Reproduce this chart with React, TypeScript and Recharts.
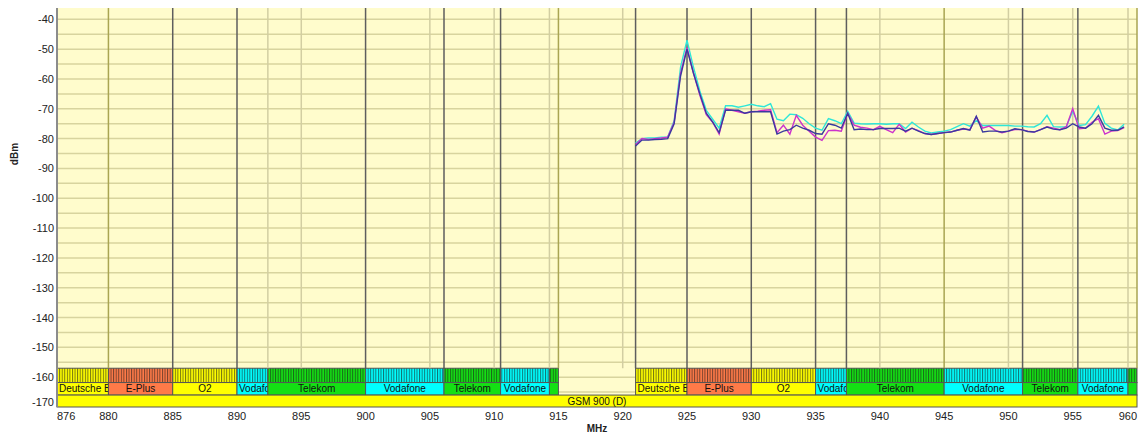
import React from 'react';
import {
  ComposedChart,
  CartesianGrid,
  Line,
  XAxis,
  YAxis,
  ReferenceArea,
  ReferenceLine,
  Customized,
} from 'recharts';

// measured sweep, 921..959 MHz
const freqs = [
  921, 921.5, 922, 922.5, 923, 923.5, 924, 924.5, 925, 925.5, 926, 926.5, 927, 927.5, 928, 928.5,
  929, 929.5, 930, 930.5, 931, 931.5, 932, 932.5, 933, 933.5, 934, 934.5, 935, 935.5, 936, 936.5,
  937, 937.5, 938, 938.5, 939, 939.5, 940, 940.5, 941, 941.5, 942, 942.5, 943, 943.5, 944, 944.5,
  945, 945.5, 946, 946.5, 947, 947.5, 948, 948.5, 949, 949.5, 950, 950.5, 951, 951.5, 952, 952.5,
  953, 953.5, 954, 954.5, 955, 955.5, 956, 956.5, 957, 957.5, 958, 958.5, 959,
];

const levelNavy = [
  -82.5, -80.5, -80.5, -80.3, -80.2, -80, -75, -59, -50, -58, -65, -71.5, -74.5, -78, -70.5, -70.5,
  -70.5, -71.5, -71, -71, -71, -71, -78.5, -77.5, -77, -75.5, -76.5, -77.2, -78.3, -78.5, -75, -75.5,
  -76.5, -71.5, -77, -76.8, -77, -77, -76.6, -76.6, -76.6, -76.5, -77.5, -76.5, -77.5, -78.3, -78.6, -78.3,
  -78, -77.8, -77.2, -76.6, -77.2, -72.5, -77.8, -77.5, -77.5, -77.8, -77.5, -76.7, -77, -77.6, -77.8, -77,
  -76.1, -76.8, -77, -76.5, -75, -76.1, -76.5, -75, -72.2, -76.5, -77.2, -77.2, -76.1,
];

const levelMagenta = [
  -82, -80, -80.3, -80, -79.8, -79.5, -74.5, -58, -49.5, -58, -65.5, -72, -74.5, -78.5, -70, -70.5,
  -71, -71.5, -71, -70.8, -70.5, -70.3, -78, -75.5, -78.5, -72.2, -75.5, -77.5, -79.5, -80.6, -77.3, -77.2,
  -77.5, -71.5, -75.5, -76.2, -76.5, -77, -75.9, -77, -78, -75.2, -77.8, -76.5, -77.3, -78.3, -78.6, -78.3,
  -78, -77.8, -77.2, -76.8, -77, -72.7, -76.5, -75.8, -77.3, -78, -77.5, -77, -77, -77.5, -77.8, -77,
  -76, -76.5, -77, -76, -70, -76.7, -76.5, -74.5, -73.3, -78.5, -77.5, -77.3, -76.3,
];

const levelCyan = [
  -81.5, -80, -79.8, -79.8, -79.5, -79.5, -74, -56, -47, -56, -64, -70.5, -73.5, -76.5, -69, -69,
  -69.5, -69, -68.5, -69, -69.3, -68.3, -73.5, -74, -71.8, -72, -73.2, -75, -76.5, -77.2, -73.3, -74,
  -75, -70.8, -74.8, -75, -75.1, -75, -75, -75.2, -75, -75, -76.6, -74.5, -76.1, -77.5, -78.1, -77.8,
  -77.5, -77, -76, -75, -75.8, -74, -75.6, -75.6, -75.6, -75.6, -75.6, -75.8, -75.8, -76, -76.1, -75,
  -72.2, -76, -76.1, -76, -70.8, -75.6, -75.3, -72.5, -69.1, -74.9, -76.5, -77.1, -75.2,
];

// operator allocations (uplink / downlink)
const bandNames = ['Deutsche Bahn', 'E-Plus', 'O2', 'Vodafone', 'Telekom', 'Vodafone', 'Telekom', 'Vodafone', 'Telekom'];
const uplinkEdges = [876, 880, 885, 890, 892.4, 900, 906.1, 910.5, 914.3, 915];
const downlinkEdges = [921, 925, 930, 935, 937.4, 945, 951.1, 955.4, 959.3, 960];
const bandColors: Record<string, string> = {
  'Deutsche Bahn': '#ffff00',
  'E-Plus': '#ff7a48',
  O2: '#ffff00',
  Vodafone: '#00ffff',
  Telekom: '#14e014',
};

const xTicks = [876, 880, 885, 890, 895, 900, 905, 910, 915, 920, 925, 930, 935, 940, 945, 950, 955, 960];
const yTicks = [-40, -50, -60, -70, -80, -90, -100, -110, -120, -130, -140, -150, -160, -170];
const gridDbm = [
  -40, -45, -50, -55, -60, -65, -70, -75, -80, -85, -90, -95, -100, -105, -110, -115, -120, -125,
  -130, -135, -140, -145, -150, -155, -160, -165,
];
const darkLines = [885, 890, 900, 906.1, 910.5, 921, 925, 930, 935, 937.4, 951.1, 955.4];
const oliveLines = [880, 915, 945, 960];
const lightLines = [892.4, 895, 905, 910, 914.3, 920, 940, 950, 955, 959.3];

const Y_TOP = -36.2;
const CHANNEL_TOP = -157;
const CHANNEL_BOTTOM = -161.8;
const LABEL_BOTTOM = -166;
const FONT = '"Liberation Sans", Arial, sans-serif';

const data = freqs.map((f, i) => ({
  f,
  navy: levelNavy[i],
  magenta: levelMagenta[i],
  cyan: levelCyan[i],
}));

const bands: { name: string; x1: number; x2: number }[] = [];
[uplinkEdges, downlinkEdges].forEach((edges) => {
  bandNames.forEach((name, i) => bands.push({ name, x1: edges[i], x2: edges[i + 1] }));
});

function bandShape(color: string, text: string | null, striped: boolean) {
  return (p: any) => {
    const { x, y, width, height } = p;
    let label = null;
    if (text && width > 16) {
      const fits = text.length * 5.6 + 4 < width;
      label = (
        <svg x={x} y={y} width={width} height={height} overflow="hidden">
          <text
            x={fits ? width / 2 : 2}
            y={height / 2 + 3.6}
            textAnchor={fits ? 'middle' : 'start'}
            fontSize={10}
            fontFamily={FONT}
            fill="#111"
          >
            {text}
          </text>
        </svg>
      );
    }
    return (
      <g>
        <rect x={x} y={y} width={width} height={height} fill={color} />
        {striped && <rect x={x} y={y} width={width} height={height} fill="url(#chan)" />}
        <rect x={x} y={y} width={width} height={height} fill="none" stroke="#555" strokeWidth={1} />
        {label}
      </g>
    );
  };
}

const XTick = (props: any) => {
  const { x, y, payload } = props;
  const v = payload.value;
  const anchor = v === xTicks[0] ? 'start' : v === xTicks[xTicks.length - 1] ? 'end' : 'middle';
  return (
    <text x={x} y={y + 13} textAnchor={anchor} fontSize={11} fontFamily={FONT} fill="#222">
      {v}
    </text>
  );
};

const YTick = (props: any) => {
  const { x, y, payload } = props;
  const shift = payload.value === -170 ? -5 : 0;
  return (
    <text x={x} y={y + 4 + shift} textAnchor="end" fontSize={11} fontFamily={FONT} fill="#222">
      {payload.value}
    </text>
  );
};

const DbmLabel = () => (
  <text
    x={18}
    y={154}
    transform="rotate(-90 18 154)"
    textAnchor="middle"
    fontSize={10}
    fontWeight="bold"
    fontFamily={FONT}
    fill="#222"
  >
    dBm
  </text>
);

export default function App() {
  return (
    <div style={{ position: 'absolute', left: 0, top: 0, background: '#fff' }}>
      <ComposedChart width={1141} height={434} data={data} margin={{ top: 8, right: 4, bottom: 0, left: 0 }}>
        <defs>
          <pattern id="chan" patternUnits="userSpaceOnUse" width={2.571} height={10}>
            <rect x={0} y={0} width={1} height={10} fill="#1a1a1a" opacity={0.6} />
          </pattern>
        </defs>
        <CartesianGrid
          vertical={false}
          horizontalValues={gridDbm}
          stroke="#d8d49e"
          strokeWidth={1.5}
          fill="#fffccc"
          fillOpacity={1}
        />
        <XAxis
          type="number"
          dataKey="f"
          domain={[876, 960]}
          ticks={xTicks}
          interval={0}
          allowDataOverflow
          axisLine={false}
          tickLine={false}
          tickSize={0}
          tickMargin={0}
          height={27}
          tick={<XTick />}
          label={{
            value: 'MHz',
            position: 'insideBottom',
            offset: 2,
            style: { fontSize: 10, fontWeight: 'bold', fontFamily: FONT, fill: '#222' },
          }}
        />
        <YAxis
          type="number"
          domain={[-170, Y_TOP]}
          ticks={yTicks}
          interval={0}
          allowDataOverflow
          width={57}
          axisLine={{ stroke: '#8c8c8c', strokeWidth: 2 }}
          tickLine={false}
          tickSize={0}
          tickMargin={3}
          tick={<YTick />}
        />
        {lightLines.map((f) => (
          <ReferenceLine
            key={`l${f}`}
            segment={[{ x: f, y: CHANNEL_TOP }, { x: f, y: Y_TOP }]}
            stroke="#d2cea2"
            strokeWidth={1.5}
          />
        ))}
        {oliveLines.map((f) => (
          <ReferenceLine
            key={`o${f}`}
            segment={[{ x: f, y: CHANNEL_TOP }, { x: f, y: Y_TOP }]}
            stroke="#a9a552"
            strokeWidth={1.5}
          />
        ))}
        {darkLines.map((f) => (
          <ReferenceLine
            key={`d${f}`}
            segment={[{ x: f, y: CHANNEL_TOP }, { x: f, y: Y_TOP }]}
            stroke="#5e5e5e"
            strokeWidth={1.5}
          />
        ))}
        {bands.map((b, i) => (
          <ReferenceArea
            key={`c${i}`}
            x1={b.x1}
            x2={b.x2}
            y1={CHANNEL_BOTTOM}
            y2={CHANNEL_TOP}
            shape={bandShape(bandColors[b.name], null, true)}
          />
        ))}
        {bands.map((b, i) => (
          <ReferenceArea
            key={`n${i}`}
            x1={b.x1}
            x2={b.x2}
            y1={LABEL_BOTTOM}
            y2={CHANNEL_BOTTOM}
            shape={bandShape(bandColors[b.name], b.name, false)}
          />
        ))}
        <ReferenceArea
          x1={876}
          x2={960}
          y1={-170}
          y2={LABEL_BOTTOM}
          shape={bandShape('#ffff00', 'GSM 900 (D)', false)}
        />
        <Line dataKey="cyan" stroke="#2fe6d8" strokeWidth={1.4} dot={false} isAnimationActive={false} />
        <Line dataKey="magenta" stroke="#cc33cc" strokeWidth={1.4} dot={false} isAnimationActive={false} />
        <Line dataKey="navy" stroke="#3a3a9e" strokeWidth={1.4} dot={false} isAnimationActive={false} />
        <Customized component={DbmLabel} />
      </ComposedChart>
    </div>
  );
}
